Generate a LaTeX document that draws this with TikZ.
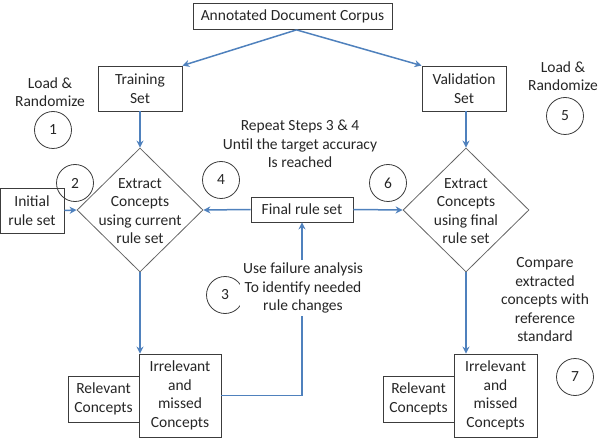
\documentclass[tikz,border=0pt]{standalone}
\usepackage{fontspec}
\setmainfont{Carlito}
\usetikzlibrary{shapes.geometric,arrows.meta}
\definecolor{arrblue}{HTML}{4F81BD}
\definecolor{edge}{HTML}{3C3C3C}
\tikzset{
  every node/.style={font=\fontsize{15.5}{18.5}\selectfont, text=black!85},
  box/.style={draw=edge, line width=0.8pt, align=center, inner sep=0pt},
  dia/.style={draw=edge!80, line width=0.8pt, diamond, minimum width=126pt, minimum height=124pt, inner sep=0pt},
  num/.style={draw=edge, line width=0.8pt, circle, minimum size=37pt, inner sep=0pt},
  lbl/.style={align=center, inner sep=0pt},
  arr/.style={draw=arrblue, line width=1.5pt, -{Stealth[length=7pt,width=7pt]}},
}
\begin{document}
\begin{tikzpicture}[x=1pt,y=-1pt]
\useasboundingbox (0,0) rectangle (599,438);
% boxes
\node[box, minimum width=199pt, minimum height=26pt] (corp) at (292.5,16.5) {Annotated Document Corpus};
\node[box, minimum width=84pt, minimum height=45pt] (train) at (140,88.5) {Training\\Set};
\node[box, minimum width=84pt, minimum height=45pt] (valid) at (464,88.5) {Validation\\Set};
\node[box, minimum width=64pt, minimum height=45pt] (init) at (32,210.5) {Initial\\rule set};
\node[box, minimum width=102pt, minimum height=25pt] (final) at (302,209.5) {Final rule set};
\node[box, minimum width=82pt, minimum height=83pt] (irr1) at (180,395.5) {Irrelevant\\and\\missed\\Concepts};
\node[box, minimum width=71pt, minimum height=46pt] (rel1) at (103.5,399) {Relevant\\Concepts};
\node[box, minimum width=83pt, minimum height=83pt] (irr2) at (495.5,395.5) {Irrelevant\\and\\missed\\Concepts};
\node[box, minimum width=71pt, minimum height=46pt] (rel2) at (418.5,399) {Relevant\\Concepts};
% diamonds
\node[dia] (d1) at (140,210) {};
\node[lbl] (d1t) at (140,211) {Extract\\Concepts\\using current\\rule set};
\node[dia] (d2) at (466,210) {};
\node[lbl] (d2t) at (466,211) {Extract\\Concepts\\using final\\rule set};
% circles
\node[num] (c1) at (53,130) {1};
\node[num] (c2) at (75,183) {2};
\node[num] (c3) at (225,295) {3};
\node[num] (c4) at (221,180) {4};
\node[num] (c5) at (565,116) {5};
\node[num] (c6) at (388,183) {6};
\node[num] (c7) at (575,377) {7};
% labels
\node[lbl] (lr1) at (50,92) {Load \&\\Randomize};
\node[lbl] (lr2) at (563,76) {Load \&\\Randomize};
\node[lbl] (rep) at (300,144) {Repeat Steps 3 \& 4\\Until the target accuracy\\Is reached};
\node[lbl] (cmp) at (545,300) {Compare\\extracted\\concepts with\\reference\\standard};
% connectors
\draw[arr] ([xshift=4pt]corp.south) -- (train.north east);
\draw[arr] ([xshift=4pt]corp.south) -- (valid.north west);
\draw[arr] (train.south) -- (d1.north);
\draw[arr] (valid.south -| d2.north) -- (d2.north);
\draw[arr] (init.east) -- (d1.west);
\draw[arr] (final.west) -- (d1.east);
\draw[arr] (final.east) -- (d2.west);
\draw[arr] (d1.south) -- (d1.south |- irr1.north);
\draw[arr] (d2.south) -- (d2.south |- irr2.north);
\draw[arr] (irr1.east) -| (final.south);
\node[lbl, fill=white, inner sep=3pt] (fail) at (303,288) {Use failure analysis\\To identify needed\\rule changes};
\end{tikzpicture}
\end{document}
